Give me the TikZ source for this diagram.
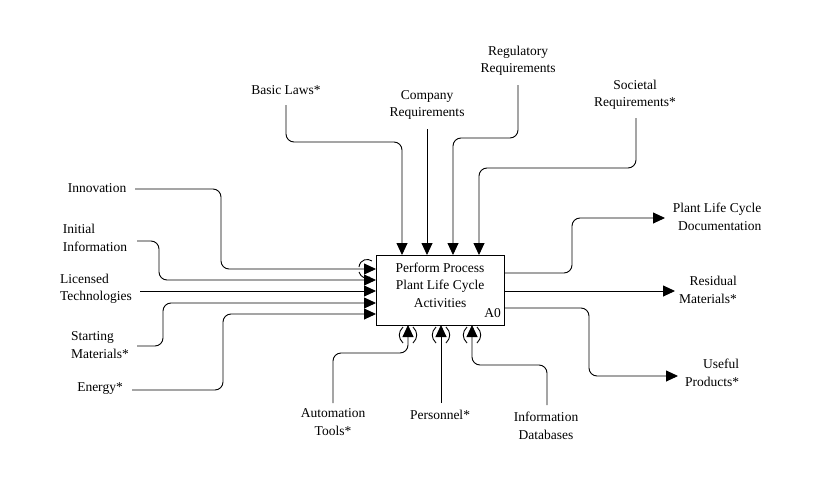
\documentclass[tikz,border=0pt]{standalone}
\usepackage{fontspec}
\setmainfont{Liberation Serif}
\usetikzlibrary{arrows.meta}
\begin{document}
\begin{tikzpicture}[x=1pt,y=-1pt,
  lbl/.style={font=\fontsize{13.5}{17.5}\selectfont, inner sep=0pt, align=center},
  conn/.style={line width=0.9pt, rounded corners=8pt, -{Triangle[length=12pt,width=11pt]}},
  tun/.style={line width=0.9pt}]
\useasboundingbox[fill=white] (0,0) rectangle (823,485);

% activity box
\node[draw, line width=0.9pt, minimum width=128pt, minimum height=70pt, inner sep=0pt] (box) at (440,290) {};
\node[lbl] (title) at (440,285) {Perform Process\\Plant Life Cycle\\Activities};
\node[lbl, anchor=south east] (num) at (501,318) {A0};

% labels
\node[lbl] (innov) at (97,188) {Innovation};
\node[lbl, align=left] (initinfo) at (95,238) {Initial\\Information};
\node[lbl, align=left] (licensed) at (96,289) {Licensed\\Technologies};
\node[lbl, align=left] (starting) at (100,345) {Starting\\Materials*};
\node[lbl] (energy) at (100,389) {Energy*};
\node[lbl] (basic) at (286,90) {Basic Laws*};
\node[lbl] (company) at (427,105) {Company\\Requirements};
\node[lbl] (regul) at (518,61) {Regulatory\\Requirements};
\node[lbl] (societal) at (635,95) {Societal\\Requirements*};
\node[lbl, align=right] (plcd) at (717,217) {Plant Life Cycle\\Documentation};
\node[lbl, align=right] (resid) at (708,290) {Residual\\Materials*};
\node[lbl, align=right] (useful) at (712,373) {Useful\\Products*};
\node[lbl] (autom) at (333,422) {Automation\\Tools*};
\node[lbl] (personnel) at (440,415) {Personnel*};
\node[lbl] (infodb) at (546,426) {Information\\Databases};

% connector end points
\coordinate (s1) at (135,189); \coordinate (e1) at (376,269);
\coordinate (s2) at (137,241); \coordinate (e2) at (376,280);
\coordinate (s3) at (140,291); \coordinate (e3) at (376,291);
\coordinate (s4) at (137,346); \coordinate (e4) at (376,303);
\coordinate (s5) at (132,390); \coordinate (e5) at (376,314);
\coordinate (s6) at (286,105); \coordinate (e6) at (402,255);
\coordinate (s7) at (427,129); \coordinate (e7) at (427,255);
\coordinate (s8) at (518,85);  \coordinate (e8) at (453,255);
\coordinate (s9) at (636,118); \coordinate (e9) at (479,255);
\coordinate (s10) at (333,403); \coordinate (e10) at (408,325);
\coordinate (s11) at (441,403); \coordinate (e11) at (441,325);
\coordinate (s12) at (547,405); \coordinate (e12) at (472,325);
\coordinate (s13) at (504,273); \coordinate (e13) at (665,218);
\coordinate (s14) at (504,291); \coordinate (e14) at (675,291);
\coordinate (s15) at (504,308); \coordinate (e15) at (678,376);

% inputs
\draw[conn] (s1) -| (221,230) |- (e1);
\draw[conn] (s2) -| (159,260) |- (e2);
\draw[conn] (s3) -- (e3);
\draw[conn] (s4) -| (163,320) |- (e4);
\draw[conn] (s5) -| (223,350) |- (e5);
% controls
\draw[conn] (s6) |- (340,142) -| (e6);
\draw[conn] (s7) -- (e7);
\draw[conn] (s8) |- (490,138) -| (e8);
\draw[conn] (s9) |- (560,168) -| (e9);
% mechanisms
\draw[conn] (s10) |- (370,353) -| (e10);
\draw[conn] (s11) -- (e11);
\draw[conn] (s12) |- (510,365) -| (e12);
% outputs
\draw[conn] (s13) -| (572,240) |- (e13);
\draw[conn] (s14) -- (e14);
\draw[conn] (s15) -| (589,340) |- (e15);

% tunnel parentheses
\draw[tun] (359,267) .. controls (360,259) and (368,258) .. (372,261);
\draw[tun] (359,272) .. controls (361,278) and (366,279) .. (370,277);
\foreach \xx in {408,441,472}{
  \draw[tun] (\xx-5,327) .. controls (\xx-10,332) and (\xx-10,338) .. (\xx-5,343);
  \draw[tun] (\xx+5,327) .. controls (\xx+10,332) and (\xx+10,338) .. (\xx+5,343);
}
\end{tikzpicture}
\end{document}
